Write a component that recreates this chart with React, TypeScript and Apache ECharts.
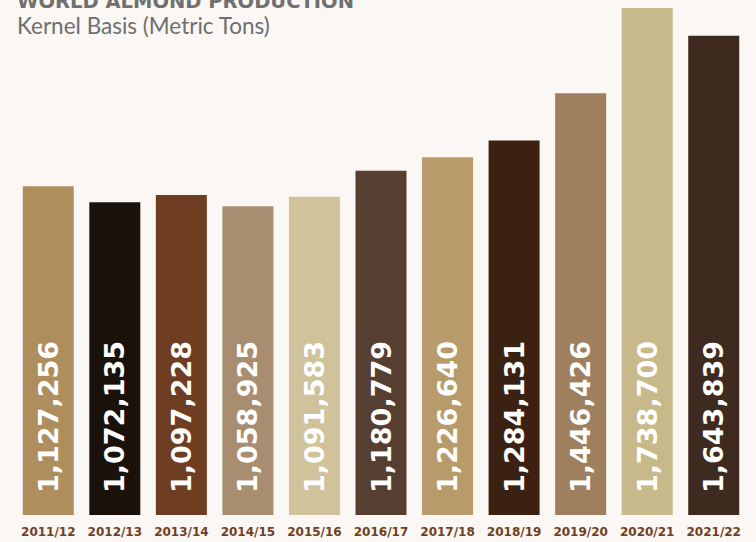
import React, { useEffect, useRef } from "react";
import * as echarts from "echarts";

const categories = ["2011/12", "2012/13", "2013/14", "2014/15", "2015/16", "2016/17", "2017/18", "2018/19", "2019/20", "2020/21", "2021/22"];
const production = [1127256, 1072135, 1097228, 1058925, 1091583, 1180779, 1226640, 1284131, 1446426, 1738700, 1643839];
const barColors = ["#ae8e5d", "#1a110b", "#6f3d22", "#a98d71", "#d0c39c", "#563e31", "#b89b6a", "#3b2112", "#9e7f5e", "#c8b98b", "#3e2a1e"];
const titleText = "WORLD ALMOND PRODUCTION";
const subtitleText = "Kernel Basis (Metric Tons)";

export default function App() {
  const ref = useRef<HTMLDivElement>(null);
  useEffect(() => {
    if (!ref.current) return;
    const chart = echarts.init(ref.current, null, { renderer: "svg" });
    chart.setOption({
      animation: false,
      backgroundColor: "#faf7f4",
      title: {
        text: titleText,
        subtext: subtitleText,
        left: 12,
        top: -14,
        itemGap: 3,
        textStyle: { fontFamily: "DejaVu Sans", fontWeight: 900, fontSize: 19.5, color: "#707070" },
        subtextStyle: { fontFamily: "Lato", fontWeight: "normal", fontSize: 22.5, color: "#6e6e6e" },
      },
      grid: { left: 15, right: 9, top: 8, bottom: 27, containLabel: false },
      xAxis: {
        type: "category",
        data: categories,
        axisLine: { show: false },
        axisTick: { show: false },
        axisLabel: {
          interval: 0,
          margin: 11,
          fontFamily: "DejaVu Sans",
          fontWeight: "bold",
          fontSize: 12,
          color: "#6e3f22",
        },
      },
      yAxis: {
        type: "value",
        min: 0,
        max: 1738700,
        show: false,
        splitLine: { show: false },
      },
      series: [
        {
          type: "bar",
          barWidth: 51,
          data: production.map((v, i) => ({ value: v, itemStyle: { color: barColors[i] } })),
          label: {
            show: true,
            position: "insideBottom",
            distance: 22,
            rotate: 90,
            align: "left",
            verticalAlign: "middle",
            fontFamily: "DejaVu Sans",
            fontWeight: "bold",
            fontSize: 27,
            color: "#ffffff",
            formatter: (p: any) => Number(p.value).toLocaleString("en-US"),
          },
        },
      ],
    });
    return () => chart.dispose();
  }, []);
  return <div ref={ref} style={{ width: 756, height: 542, position: "fixed", left: 0, top: 0 }} />;
}
